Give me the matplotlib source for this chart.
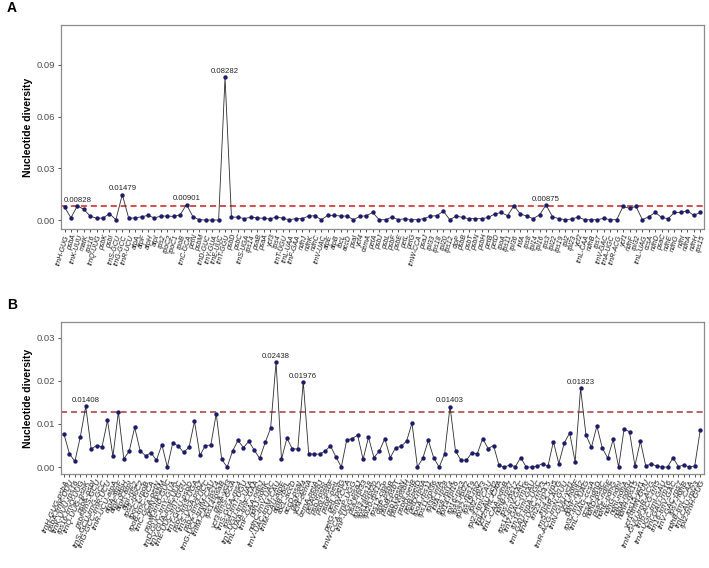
import numpy as np
import matplotlib
matplotlib.use("Agg")
import matplotlib.pyplot as plt

# ---------------------------------
# Data: panel A (genes)
# ---------------------------------

genes_a = [
    "trnH-GUG", "psbA", "trnK-UUU", "matK", "rps16", "trnQ-UUG", "psbK", "psbI", "trnS-GCU", "trnG-GCC",
    "trnR-UCU", "atpA", "atpF", "atpH", "atpI", "rps2", "rpoC2", "rpoC1", "rpoB", "trnC-GCA",
    "petN", "psbM", "trnD-GUC", "trnY-GUA", "trnE-UUC", "trnT-GGU", "psbD", "psbC", "trnS-UGA", "rps14",
    "psaB", "psaA", "ycf3", "rps4", "trnT-UGU", "trnL-UAA", "trnF-GAA", "ndhJ", "ndhK", "ndhC",
    "trnV-UAC", "atpE", "atpB", "rbcL", "accD", "psaI", "ycf4", "cemA", "petA", "psbJ",
    "psbL", "psbF", "psbE", "petL", "petG", "trnW-CCA", "psaJ", "rpl33", "rps18", "rpl20",
    "rps12", "clpP", "psbB", "psbT", "psbN", "psbH", "petB", "petD", "rpoA", "rps11",
    "rpl36", "infA", "rps8", "rpl14", "rpl16", "rps3", "rpl22", "rps19", "rpl2", "rpl23",
    "ycf2", "trnL-CAA", "ndhB", "rps7", "trnV-GAC", "trnA-UGC", "trnR-ACG", "ycf1", "ndhF", "rpl32",
    "trnL-UAG", "ccsA", "ndhD", "psaC", "ndhE", "ndhG", "ndhI", "ndhA", "ndhH", "rps15",
]

pi_a = [
    0.0075, 0.0013, 0.00828, 0.0062, 0.0023, 0.0010, 0.0012, 0.0037, 0.0002, 0.01479,
    0.0010, 0.0013, 0.0019, 0.0027, 0.0012, 0.0023, 0.0023, 0.0021, 0.0030, 0.00901,
    0.0019, 0.0002, 0.0, 0.0, 0.0, 0.08282, 0.0017, 0.0017, 0.0008, 0.0017,
    0.0013, 0.0010, 0.0006, 0.0019, 0.0010, 0.0002, 0.0008, 0.0008, 0.0023, 0.0025,
    0.0002, 0.0027, 0.0027, 0.0023, 0.0023, 0.0002, 0.0021, 0.0025, 0.0044, 0.0002,
    0.0002, 0.0017, 0.0002, 0.0008, 0.0002, 0.0002, 0.0008, 0.0023, 0.0025, 0.0052,
    0.0002, 0.0023, 0.0015, 0.0008, 0.0008, 0.0008, 0.0015, 0.0035, 0.0044, 0.0025,
    0.0083, 0.0035, 0.0023, 0.0008, 0.0031, 0.00875, 0.0019, 0.0008, 0.0002, 0.0006,
    0.0017, 0.0002, 0.0002, 0.0002, 0.0010, 0.0002, 0.0002, 0.0079, 0.0068, 0.0079,
    0.0002, 0.0019, 0.0044, 0.0015, 0.0008, 0.0044, 0.0044, 0.0054, 0.0027, 0.0044,
]

peaks_a = ["trnK-UUU", "trnG-GCC", "trnC-GCA", "trnT-GGU", "rps3"]
cutoff_a = 0.0081

# ---------------------------------
# Data: panel B (intergenic regions)
# ---------------------------------

regions_b = [
    "trnH-GUG-psbA", "psbA-trnK-UUU", "trnK-UUU-rps16", "rps16-trnQ-UUG", "trnQ-UUG-psbK",
    "psbK-psbI", "psbI-trnS-GCU", "trnS-GCU-trnG-GCC", "trnG-GCC-trnR-UCU", "trnR-UCU-atpA",
    "atpA-atpF", "atpF-atpH", "atpH-atpI", "atpI-rps2", "rps2-rpoC2",
    "rpoC1-rpoB", "rpoB-trnC-GCA", "trnC-GCA-petN", "petN-psbM", "psbM-trnD-GUC",
    "trnD-GUC-trnY-GUA", "trnY-GUA-trnE-UUC", "trnE-UUC-trnT-GGU", "trnT-GGU-psbD", "psbC-trnS-UGA",
    "trnS-UGA-psbZ", "psbZ-trnG-UCC", "trnG-UCC-trnfM-CAU", "trnfM-CAU-rps14", "rps14-psaB",
    "psaA-ycf3", "ycf3-trnS-GGA", "trnS-GGA-rps4", "rps4-trnT-UGU", "trnT-UGU-trnL-UAA",
    "trnL-UAA-trnF-GAA", "trnF-GAA-ndhJ", "ndhJ-ndhK", "ndhC-trnV-UAC", "trnV-UAC-trnM-CAU",
    "trnM-CAU-atpE", "atpB-rbcL", "rbcL-accD", "accD-psaI", "psaI-ycf4",
    "ycf4-cemA", "cemA-petA", "petA-psbJ", "psbJ-psbL", "psbL-psbF",
    "psbE-petL", "petL-petG", "petG-trnW-CCA", "trnW-CCA-trnP-UGG", "trnP-UGG-psaJ",
    "psaJ-rpl33", "rpl33-rps18", "rps18-rpl20", "rpl20-rps12", "rps12-clpP",
    "clpP-psbB", "psbB-psbT", "psbT-psbN", "psbN-psbH", "psbH-petB",
    "petB-petD", "petD-rpoA", "rpoA-rps11", "rps11-rpl36", "rpl36-infA",
    "infA-rps8", "rps8-rpl14", "rpl14-rpl16", "rpl16-rps3", "rps3-rpl22",
    "rpl22-rps19", "rps19-rpl2", "rpl2-rpl23", "rpl23-trnI-CAU", "trnI-CAU-ycf2",
    "ycf2-trnL-CAA", "trnL-CAA-ndhB", "ndhB-rps7", "rps7-rps12", "rps12-trnV-GAC",
    "trnV-GAC-rrn16", "rrn16-trnI-GAU", "trnI-GAU-trnA-UGC", "trnA-UGC-rrn23", "rrn23-rrn4.5",
    "rrn4.5-rrn5", "rrn5-trnR-ACG", "trnR-ACG-trnN-GUU", "trnN-GUU-ycf1", "ycf1-ndhF",
    "ndhF-rpl32", "rpl32-trnL-UAG", "trnL-UAG-ccsA", "ccsA-ndhD", "ndhD-psaC",
    "psaC-ndhE", "ndhE-ndhG", "ndhG-ndhI", "ndhI-ndhA", "ndhA-ndhH",
    "ndhH-rps15", "rps15-ycf1", "ycf1-trnN-GUU", "trnN-GUU-trnR-ACG", "trnR-ACG-rrn5",
    "trnA-UGC-trnI-GAU", "trnI-GAU-rrn16", "rrn16-trnV-GAC", "trnV-GAC-rps7", "rps7-ndhB",
    "ndhB-trnL-CAA", "trnI-CAU-rpl23", "rpl2-trnH-GUG",
]

pi_b = [
    0.0076, 0.0031, 0.0013, 0.0070, 0.01408, 0.0042, 0.0050, 0.0047, 0.0108, 0.0025,
    0.0128, 0.0019, 0.0037, 0.0092, 0.0038, 0.0026, 0.0033, 0.0016, 0.0052, 0.0,
    0.0056, 0.0049, 0.0034, 0.0046, 0.0106, 0.0027, 0.0050, 0.0051, 0.0124, 0.0018,
    0.0, 0.0037, 0.0062, 0.0045, 0.0060, 0.0039, 0.0020, 0.0057, 0.0090, 0.02438,
    0.0018, 0.0067, 0.0042, 0.0042, 0.01976, 0.0031, 0.0030, 0.0030, 0.0037, 0.0049,
    0.0024, 0.0, 0.0063, 0.0066, 0.0074,
    0.0018, 0.0069, 0.0022, 0.0037, 0.0066, 0.0022, 0.0045, 0.0048, 0.0060, 0.0102,
    0.0, 0.0021, 0.0062, 0.0021, 0.0, 0.0031, 0.01403, 0.0037, 0.0016, 0.0016,
    0.0033, 0.0031, 0.0066, 0.0043, 0.0050, 0.0004, 0.0, 0.0005, 0.0001, 0.0022,
    0.0, 0.0, 0.0002, 0.0008, 0.0002, 0.0059, 0.0008, 0.0056, 0.0079, 0.0012,
    0.01823, 0.0074, 0.0046, 0.0095, 0.0044, 0.0021, 0.0064, 0.0, 0.0088, 0.0082,
    0.0003, 0.0060, 0.0002, 0.0008, 0.0002, 0.0, 0.0, 0.0022, 0.0001, 0.0005,
    0.0, 0.0003, 0.0085,
]

peaks_b = ["trnQ-UUG-psbK", "trnV-UAC-trnM-CAU", "psaI-ycf4", "rps8-rpl14", "ndhF-rpl32"]
cutoff_b = 0.0127

# ---------------------------------
# Figure
# ---------------------------------

plt.rcParams["font.family"] = ["Liberation Sans", "DejaVu Sans"]

W, H = 709, 568
fig = plt.figure(figsize=(W / 100, H / 100), dpi=100)


def box(left, top, right, bottom):
    return [left / W, 1 - bottom / H, (right - left) / W, (bottom - top) / H]


ax_a = fig.add_axes(box(61, 25, 704, 229))
ax_b = fig.add_axes(box(61, 322, 704, 474))


def draw_panel(ax, labels, values, peaks, cutoff, ylim, yticks, xlim,
               label_size, label_angle, line_color):
    x = np.arange(len(values))
    ax.plot(x, values, color="#2b2b2b", lw=0.6, zorder=2)
    ax.scatter(x, values, s=10, color="#1c1c6b", linewidths=0, zorder=3)
    ax.axhline(cutoff, color=line_color, ls=(0, (4, 2.5)), lw=1.1, zorder=1)

    # label the peak values
    for name in peaks:
        i = labels.index(name)
        ax.annotate(f"{values[i]:.5f}", (i, values[i]), xytext=(0, 1.5),
                    textcoords="offset points", ha="center", va="bottom",
                    fontsize=5.6, color="#222222")

    ax.set_xlim(*xlim)
    ax.set_ylim(*ylim)
    ax.set_yticks(yticks)
    ax.set_yticklabels([f"{t:.2f}" for t in yticks])
    ax.set_xticks(x)
    ax.set_xticklabels(labels, rotation=label_angle, ha="right", va="top",
                       rotation_mode="anchor", fontsize=label_size,
                       style="italic", color="#1a1a1a")
    ax.tick_params(axis="y", length=2.5, width=0.6, color="#333333",
                   labelsize=6.8, labelcolor="#4d4d4d", pad=1.5)
    ax.tick_params(axis="x", length=2.5, width=0.6, color="#333333", pad=1)
    ax.set_ylabel("Nucleotide diversity", fontsize=7.5, fontweight="bold",
                  labelpad=3)
    for s in ax.spines.values():
        s.set_color("#8c8c8c")
        s.set_linewidth(0.9)


draw_panel(ax_a, genes_a, pi_a, peaks_a, cutoff_a,
           (-0.0052, 0.1132), [0.0, 0.03, 0.06, 0.09], (-0.55, 99.6),
           5.0, 73, "#cc1f1f")
draw_panel(ax_b, regions_b, pi_b, peaks_b, cutoff_b,
           (-0.0016, 0.0336), [0.0, 0.01, 0.02, 0.03], (-0.55, 117.7),
           5.8, 66, "#a33b3b")

fig.text(7 / W, 1 - 8 / H, "A", fontsize=10, fontweight="bold", va="center")
fig.text(7 / W, 1 - 305 / H, "B", fontsize=10, fontweight="bold", va="center")

fig.savefig("out.png", dpi=100)
